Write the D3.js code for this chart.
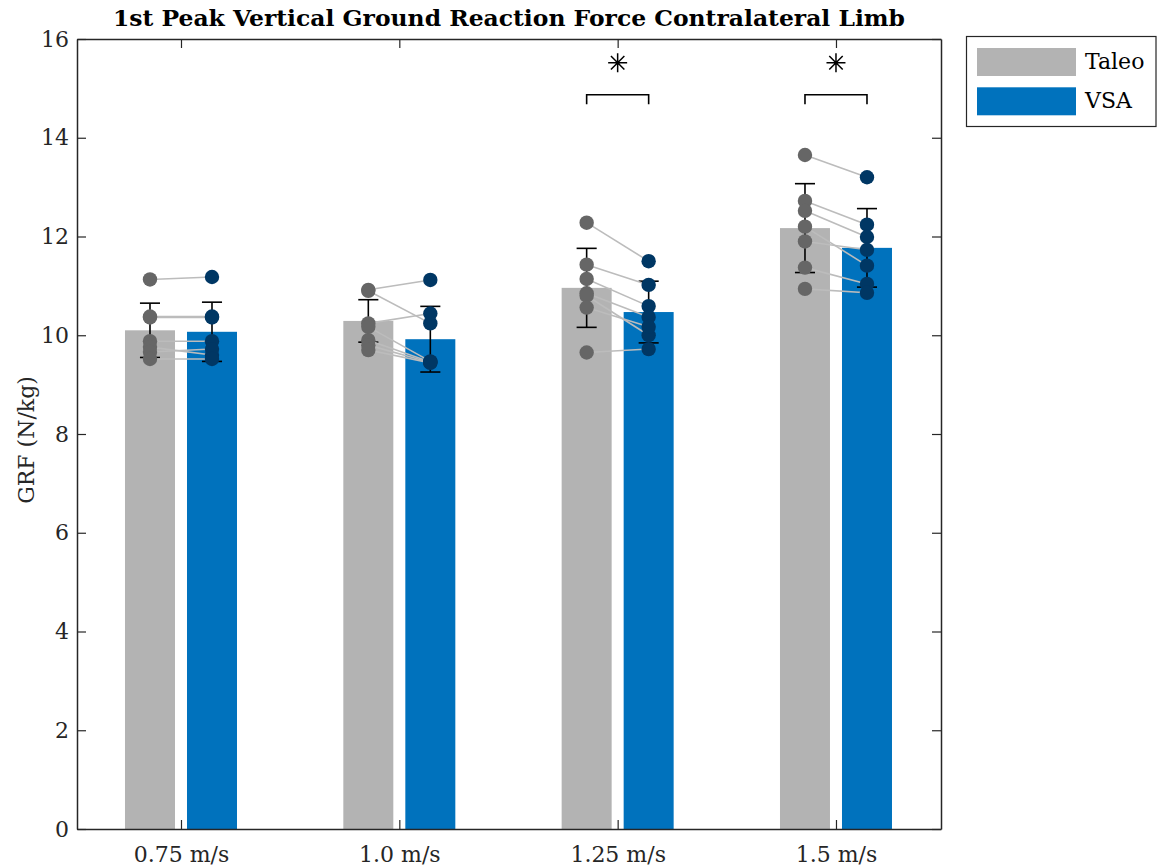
<!DOCTYPE html>
<html>
<head>
<meta charset="utf-8">
<script src="https://cdn.jsdelivr.net/npm/d3@7"></script>
<style>
  html, body { margin: 0; padding: 0; background: #fff; }
  svg { display: block; }
</style>
</head>
<body>
<svg id="chart" width="1159" height="868"></svg>
<script>
// Walking speeds (one group per speed)
const speeds = ["0.75 m/s", "1.0 m/s", "1.25 m/s", "1.5 m/s"];
const conditions = ["Taleo", "VSA"];

// Group means and standard deviations (N/kg)
const taleoMean = [10.10, 10.29, 10.96, 12.17];
const taleoSD   = [0.55, 0.43, 0.80, 0.90];
const vsaMean   = [10.07, 9.92, 10.47, 11.77];
const vsaSD     = [0.60, 0.665, 0.625, 0.795];

// Individual participants, same order in both conditions (paired)
const taleoSubjects = [
  [11.13, 10.38, 10.36, 9.88, 9.76, 9.66, 9.52],
  [10.92, 10.90, 10.24, 10.17, 9.90, 9.80, 9.70],
  [12.28, 11.43, 11.14, 10.85, 10.80, 10.56, 9.65],
  [13.65, 12.72, 12.52, 12.20, 11.90, 11.37, 10.94]
];
const vsaSubjects = [
  [11.18, 10.38, 10.36, 9.88, 9.60, 9.72, 9.52],
  [11.12, 10.24, 10.44, 9.47, 9.46, 9.45, 9.44],
  [11.50, 11.02, 10.59, 10.37, 10.00, 10.17, 9.72],
  [13.20, 12.24, 11.99, 11.41, 11.73, 11.04, 10.86]
];

// Significant differences between conditions (group index)
const significant = [2, 3];

const yTicks = [0, 2, 4, 6, 8, 10, 12, 14, 16];

// ---- layout ----
const plot = { left: 77, right: 941, top: 39, bottom: 829 };
const axisColor = "#262626";
const colors = {
  Taleo: { bar: "#b3b3b3", dot: "#666666" },
  VSA:   { bar: "#0072bd", dot: "#003764" }
};
const barWidth = 0.229;   // in category units
const barOffset = 0.142;  // half spacing between paired bars
const capHalf = 0.046;

const svg = d3.select("#chart");

const x = d3.scaleLinear().domain([0.5237, 4.481]).range([plot.left, plot.right]);
const y = d3.scaleLinear().domain([0, 16]).range([plot.bottom, plot.top]);

const groups = speeds.map((s, i) => ({
  i, pos: i + 1,
  Taleo: { mean: taleoMean[i], sd: taleoSD[i], pts: taleoSubjects[i], dx: -barOffset },
  VSA:   { mean: vsaMean[i],   sd: vsaSD[i],   pts: vsaSubjects[i],   dx: barOffset }
}));

const g = svg.append("g");

// Bars
groups.forEach(grp => {
  conditions.forEach(c => {
    const d = grp[c];
    const cx = grp.pos + d.dx;
    g.append("rect")
      .attr("x", x(cx - barWidth / 2))
      .attr("y", y(d.mean))
      .attr("width", x(cx + barWidth / 2) - x(cx - barWidth / 2))
      .attr("height", y(0) - y(d.mean))
      .attr("fill", colors[c].bar);
  });
});

// Error bars (mean ± SD)
groups.forEach(grp => {
  conditions.forEach(c => {
    const d = grp[c];
    const cx = grp.pos + d.dx;
    const eg = g.append("g").attr("stroke", "#000").attr("stroke-width", 1.6).attr("fill", "none");
    eg.append("line").attr("x1", x(cx)).attr("x2", x(cx))
      .attr("y1", y(d.mean - d.sd)).attr("y2", y(d.mean + d.sd));
    [d.mean - d.sd, d.mean + d.sd].forEach(v => {
      eg.append("line").attr("x1", x(cx - capHalf)).attr("x2", x(cx + capHalf))
        .attr("y1", y(v)).attr("y2", y(v));
    });
  });
});

// Paired lines between conditions
groups.forEach(grp => {
  grp.Taleo.pts.forEach((v, k) => {
    g.append("line")
      .attr("x1", x(grp.pos + grp.Taleo.dx)).attr("y1", y(v))
      .attr("x2", x(grp.pos + grp.VSA.dx)).attr("y2", y(grp.VSA.pts[k]))
      .attr("stroke", "#bcbcbc").attr("stroke-width", 1.6);
  });
});

// Individual points
groups.forEach(grp => {
  conditions.forEach(c => {
    const d = grp[c];
    g.selectAll(null).data(d.pts).enter().append("circle")
      .attr("cx", x(grp.pos + d.dx))
      .attr("cy", v => y(v))
      .attr("r", 7.2)
      .attr("fill", colors[c].dot);
  });
});

// Significance brackets and asterisks
const bracketTop = 14.87, bracketLeg = 14.68, starY = 15.52;
significant.forEach(i => {
  const grp = groups[i];
  const x0 = x(grp.pos + grp.Taleo.dx), x1 = x(grp.pos + grp.VSA.dx);
  g.append("path")
    .attr("d", `M${x0},${y(bracketLeg)}V${y(bracketTop)}H${x1}V${y(bracketLeg)}`)
    .attr("fill", "none").attr("stroke", "#000").attr("stroke-width", 1.6);
  const sx = x(grp.pos), sy = y(starY), r = 9.5, rd = r * Math.SQRT1_2;
  g.append("path")
    .attr("d", `M${sx - r},${sy}H${sx + r}M${sx},${sy - r}V${sy + r}` +
               `M${sx - rd},${sy - rd}L${sx + rd},${sy + rd}M${sx - rd},${sy + rd}L${sx + rd},${sy - rd}`)
    .attr("fill", "none").attr("stroke", "#000").attr("stroke-width", 1.5);
});

// ---- axes ----
const tickLen = 9;
const fontFamily = "'DejaVu Serif', 'Liberation Serif', serif";

const yAxisL = d3.axisLeft(y).tickValues(yTicks).tickFormat(d3.format("d"))
  .tickSize(-tickLen).tickSizeOuter(0).tickPadding(8);
const yAxisR = d3.axisRight(y).tickValues(yTicks).tickFormat("")
  .tickSize(-tickLen).tickSizeOuter(0);
const xAxisB = d3.axisBottom(x).tickValues([1, 2, 3, 4]).tickFormat((d, i) => speeds[i])
  .tickSize(-tickLen).tickSizeOuter(0).tickPadding(17);
const xAxisT = d3.axisTop(x).tickValues([1, 2, 3, 4]).tickFormat("")
  .tickSize(-tickLen).tickSizeOuter(0);

function styleAxis(sel) {
  sel.select(".domain").attr("stroke", axisColor).attr("stroke-width", 1.5);
  sel.selectAll(".tick line").attr("stroke", axisColor).attr("stroke-width", 1.2);
  sel.selectAll(".tick text").attr("fill", axisColor)
    .style("font-family", fontFamily).style("font-size", "22px");
}

svg.append("g").attr("transform", `translate(${plot.left},0)`).call(yAxisL).call(styleAxis);
svg.append("g").attr("transform", `translate(${plot.right},0)`).call(yAxisR).call(styleAxis);
svg.append("g").attr("transform", `translate(0,${plot.bottom})`).call(xAxisB).call(styleAxis);
svg.append("g").attr("transform", `translate(0,${plot.top})`).call(xAxisT).call(styleAxis);

// Title
svg.append("text")
  .attr("x", (plot.left + plot.right) / 2).attr("y", 26)
  .attr("text-anchor", "middle")
  .attr("textLength", 792).attr("lengthAdjust", "spacingAndGlyphs")
  .style("font-family", fontFamily).style("font-weight", "bold").style("font-size", "22px")
  .attr("fill", "#000")
  .text("1st Peak Vertical Ground Reaction Force Contralateral Limb");

// Y label
svg.append("text")
  .attr("transform", `translate(34,440) rotate(-90)`)
  .attr("text-anchor", "middle")
  .style("font-family", fontFamily).style("font-size", "22px")
  .attr("fill", axisColor)
  .text("GRF (N/kg)");

// Legend
const leg = svg.append("g");
leg.append("rect").attr("x", 966.5).attr("y", 36.5).attr("width", 189.5).attr("height", 90)
  .attr("fill", "#fff").attr("stroke", axisColor).attr("stroke-width", 1.2);
conditions.forEach((c, k) => {
  const top = 48 + k * 39.3;
  leg.append("rect").attr("x", 977).attr("y", top).attr("width", 99).attr("height", 28)
    .attr("fill", colors[c].bar);
  leg.append("text").attr("x", 1085).attr("y", top + 21)
    .style("font-family", fontFamily).style("font-size", "22px")
    .attr("fill", "#000").text(c);
});
</script>
</body>
</html>
